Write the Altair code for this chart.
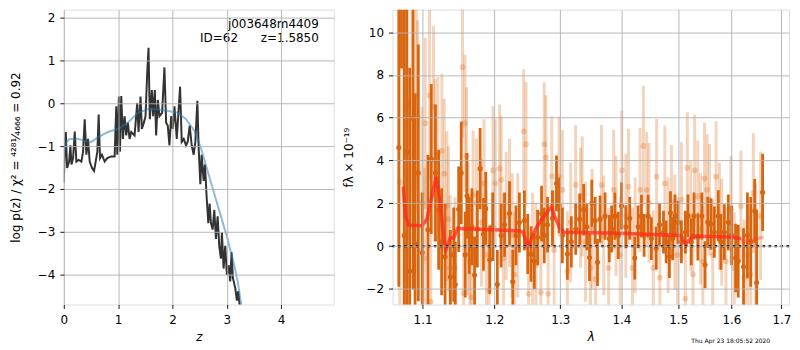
import altair as alt
import pandas as pd

FONT = "DejaVu Sans"

# ---------------- left panel: p(z) ----------------
pz_z = [0.000, 0.018, 0.037, 0.061, 0.098, 0.122, 0.141, 0.171, 0.202, 0.232,
        0.275, 0.324, 0.355, 0.385, 0.416, 0.446, 0.477, 0.520, 0.557, 0.587,
        0.618, 0.642, 0.667, 0.703, 0.752, 0.801, 0.875, 0.936, 0.966, 0.985,
        1.015, 1.034, 1.058, 1.089, 1.119, 1.150, 1.180, 1.211, 1.242, 1.303,
        1.352, 1.376, 1.413, 1.437, 1.474, 1.505, 1.535, 1.560, 1.584, 1.621,
        1.645, 1.676, 1.700, 1.731, 1.761, 1.810, 1.853, 1.884, 1.914, 1.945,
        1.976, 2.006, 2.037, 2.080, 2.141, 2.171, 2.208, 2.251, 2.281, 2.318,
        2.355, 2.391, 2.422, 2.459, 2.483, 2.514, 2.538, 2.575, 2.599, 2.630,
        2.661, 2.685, 2.709, 2.740, 2.771, 2.801, 2.832, 2.862, 2.893, 2.911,
        2.942, 2.972, 3.003, 3.034, 3.064, 3.089, 3.113, 3.156, 3.187, 3.211,
        3.235, 3.260]
pz_logp = [-1.85, -1.13, -0.67, -1.51, -1.36, -0.98, -1.43, -1.28, -0.66, -1.36,
           -1.32, -1.36, -1.13, -0.37, -1.20, -0.83, -1.36, -1.51, -1.58, -1.36,
           -1.13, -0.26, -1.28, -1.20, -1.36, -1.28, -1.24, -1.24, -0.07, -1.20,
           0.16, -1.13, 0.17, -0.83, -0.30, -0.75, -0.45, -0.83, -0.67, -0.75,
           0.01, -0.67, 0.16, -0.60, -0.45, -0.30, 0.69, 1.30, -0.37, 0.31,
           -0.30, 0.31, -0.75, 0.08, -0.30, -0.22, 0.84, -0.45, -0.52, -0.98,
           -0.30, -0.60, -0.07, -0.83, 0.39, -0.90, -0.83, -0.98, -0.90, -0.52,
           -0.98, -1.20, -0.90, 0.06, -1.05, -1.89, -1.20, -1.81, -1.43, -2.19,
           -2.80, -2.34, -2.80, -2.95, -2.49, -3.17, -2.64, -3.33, -3.63, -3.02,
           -3.86, -3.33, -4.01, -3.78, -4.16, -3.48, -4.08, -4.31, -4.61, -4.39,
           -4.69, -5.07]

prior_z = [0.000, 0.049, 0.110, 0.263, 0.416, 0.508, 0.630, 0.813, 0.997, 1.180,
           1.364, 1.547, 1.731, 1.914, 2.098, 2.251, 2.404, 2.526, 2.648, 2.771,
           2.893, 3.015, 3.138, 3.211, 3.260, 3.272]
prior_logp = [-1.13, -0.90, -0.83, -0.83, -0.89, -0.90, -0.79, -0.67, -0.60, -0.45,
              -0.22, -0.14, -0.14, -0.18, -0.22, -0.37, -0.64, -1.05, -1.58, -2.11,
              -2.64, -3.17, -3.78, -4.23, -4.65, -4.80]

left_ticks_x = [0, 1, 2, 3, 4]
left_ticks_y = [-4, -3, -2, -1, 0, 1, 2]
label_lines = "j003648m4409\nID=62\u00a0\u00a0\u00a0\u00a0\u00a0\u00a0z=1.5850"

# ---------------- right panel: spectrum ----------------
dark_wave = [1.0687, 1.0722, 1.0757, 1.0790, 1.0829, 1.0874, 1.0900, 1.0943, 1.0996, 1.1072,
             1.1116, 1.1173, 1.1216, 1.1257, 1.1304, 1.1377, 1.1423, 1.1445, 1.1492, 1.1528,
             1.1584, 1.1608, 1.1640, 1.1678, 1.1716, 1.1755, 1.1795, 1.1843, 1.1876, 1.1933,
             1.1976, 1.2044, 1.2099, 1.2150, 1.2223, 1.2272, 1.2319, 1.2371, 1.2446, 1.2496,
             1.2547, 1.2597, 1.2647, 1.2708, 1.2749, 1.2800, 1.2877, 1.2940, 1.2981, 1.3033,
             1.3112, 1.3175, 1.3245, 1.3309, 1.3374, 1.3425, 1.3469, 1.3506, 1.3561, 1.3600,
             1.3643, 1.3725, 1.3796, 1.3835, 1.3890, 1.3947, 1.4003, 1.4076, 1.4143, 1.4229,
             1.4287, 1.4345, 1.4391, 1.4461, 1.4519, 1.4605, 1.4663, 1.4734, 1.4782, 1.4840,
             1.4859, 1.4899, 1.4940, 1.4996, 1.5057, 1.5130, 1.5178, 1.5239, 1.5289, 1.5361,
             1.5435, 1.5496, 1.5547, 1.5608, 1.5671, 1.5747, 1.5797, 1.5862, 1.5939, 1.6003,
             1.6080, 1.6132, 1.6236, 1.6313, 1.6378, 1.6457, 1.6497, 1.6616]
dark_flux = [4.6, 14.0, 0.5, 4.4, -1.17, 5.97, 0.12, 3.42, -0.3, 0.76,
             4.07, 3.42, 1.7, 0.2, -0.5, -1.45, -0.4, -1.8, 1.72, 3.42,
             -0.4, 2.35, 0.5, 0.9, -1.35, 0.8, 3.62, 0.55, 1.76, -0.64,
             0.9, -1.78, 0.5, 1.0, 1.53, -1.67, 0.5, 1.1, 1.2, 0.1,
             -0.37, -0.7, 0.4, 1.52, 0.5, 1.0, 1.3, 2.93, 1.9, 0.5,
             -0.37, 0.2, 0.8, 1.26, 1.7, 0.9, -0.53, 2.0, 1.2, -0.76,
             1.26, 1.4, 0.35, 0.8, 1.4, 0.5, 1.87, 0.9, 1.3, -0.56,
             0.9, 1.4, 0.5, 1.4, 0.35, -0.1, 1.0, 0.65, 0.2, -0.49,
             1.56, 0.35, 1.41, 1.11, 0.2, 0.65, 1.41, 0.2, 1.41, 0.43,
             1.41, -0.87, 1.11, 1.03, 0.65, 1.41, 0.2, 0.65, 1.11, 0.5,
             -0.56, -0.7, -0.97, 0.5, 0.2, 1.64, -1.7, 2.51]
dark_err = [6.5, 5.7, 12.0, 9.0, 9.5, 8.0, 7.0, 6.0, 2.8, 3.5,
            3.5, 3.2, 2.8, 2.5, 2.5, 2.2, 2.2, 2.0, 2.0, 2.4,
            2.0, 2.0, 1.8, 1.8, 1.8, 1.8, 1.9, 1.7, 1.7, 1.6,
            1.6, 1.6, 1.5, 1.5, 1.5, 1.5, 1.4, 1.4, 1.4, 1.4,
            1.3, 1.3, 1.3, 1.3, 1.3, 1.3, 1.3, 1.3, 1.3, 1.3,
            1.2, 1.2, 1.2, 1.2, 1.2, 1.1, 1.1, 1.1, 1.1, 1.1,
            1.1, 1.1, 1.1, 1.1, 1.1, 1.1, 1.1, 1.0, 1.0, 1.0,
            1.0, 1.0, 1.0, 1.0, 1.0, 1.0, 1.0, 1.0, 1.0, 1.0,
            1.0, 1.0, 1.0, 1.0, 1.0, 1.0, 1.0, 1.1, 1.1, 1.1,
            1.1, 1.1, 1.2, 1.2, 1.2, 1.2, 1.3, 1.3, 1.3, 1.4,
            1.6, 1.7, 1.8, 2.0, 2.1, 1.5, 3.4, 1.8]

light_wave = [1.0700, 1.0797, 1.0800, 1.0860, 1.0917, 1.0934, 1.0992, 1.1027, 1.1036, 1.1093,
              1.1110, 1.1147, 1.1165, 1.1205, 1.1260, 1.1293, 1.1328, 1.1350, 1.1373, 1.1441,
              1.1546, 1.1560, 1.1580, 1.1602, 1.1626, 1.1649, 1.1672, 1.1695, 1.1742, 1.1814,
              1.1851, 1.1885, 1.1923, 1.1980, 1.2015, 1.2077, 1.2101, 1.2135, 1.2174, 1.2223,
              1.2262, 1.2296, 1.2346, 1.2435, 1.2471, 1.2510, 1.2571, 1.2621, 1.2697, 1.2749,
              1.2775, 1.2810, 1.2867, 1.2903, 1.2981, 1.3033, 1.3112, 1.3165, 1.3245, 1.3324,
              1.3350, 1.3404, 1.3485, 1.3512, 1.3567, 1.3665, 1.3703, 1.3785, 1.3869, 1.3908,
              1.3980, 1.4008, 1.4076, 1.4121, 1.4189, 1.4235, 1.4321, 1.4379, 1.4436, 1.4477,
              1.4552, 1.4611, 1.4669, 1.4758, 1.4817, 1.4877, 1.4936, 1.4984, 1.5057, 1.5130,
              1.5166, 1.5228, 1.5270, 1.5301, 1.5361, 1.5411, 1.5454, 1.5485, 1.5534, 1.5578,
              1.5640, 1.5704, 1.5768, 1.5812, 1.5894, 1.5990, 1.6055, 1.6184, 1.6249, 1.6313,
              1.6378, 1.6431, 1.6477, 1.6576]
light_flux = [3.0, 6.58, 1.42, 5.97, 7.07, 6.05, 2.02, -0.56, 5.74, 7.04,
              -2.6, 6.50, 4.00, 4.30, 4.45, 3.39, 1.87, 1.26, -1.02, -1.02,
              8.36, -2.2, 5.74, 4.22, 0.81, -0.71, -2.39, 2.40, 2.02, 1.11,
              2.93, -0.41, -2.08, 3.54, 2.93, 3.62, 3.09, -0.56, 1.41, 2.02,
              0.50, -1.32, 0.50, 5.36, 4.76, -2.23, -0.41, -0.87, -2.16, 4.76,
              4.15, -2.23, 3.27, -0.18, 3.24, 2.63, -1.17, 1.11, 2.86, 1.79,
              2.33, 0.20, -1.02, 0.81, -1.55, 2.86, 0.50, -1.02, 2.63, 1.41,
              -0.41, 3.54, 1.41, 2.78, -1.02, 0.50, 2.63, 4.68, 2.63, 2.02,
              -1.02, 3.24, -1.47, 2.93, 0.50, 2.02, 0.65, -0.41, 2.17, -2.46,
              3.65, 1.41, -1.32, 3.54, 2.33, 0.81, -0.71, 3.16, 2.63, 2.17,
              -0.41, 3.24, 1.41, 0.65, -0.71, 1.72, -1.02, 1.87, -1.47, -0.41,
              -1.32, 2.48, 0.05, 1.41]
light_err = [8.0, 5.0, 5.5, 5.0, 4.5, 4.5, 4.5, 4.2, 4.0, 4.0,
             4.0, 3.8, 3.8, 3.6, 3.6, 3.5, 3.5, 3.4, 3.4, 3.3,
             3.3, 3.2, 3.2, 3.2, 3.1, 3.1, 3.1, 3.0, 3.0, 3.0,
             3.0, 3.0, 3.0, 3.0, 3.0, 3.0, 3.0, 3.0, 3.0, 3.0,
             2.9, 2.9, 2.9, 2.9, 2.9, 2.9, 2.9, 2.9, 2.9, 2.9,
             2.9, 2.9, 2.8, 2.8, 2.8, 2.8, 2.8, 2.8, 2.8, 2.8,
             2.8, 2.8, 2.8, 2.8, 2.8, 2.8, 2.8, 2.8, 2.8, 2.8,
             2.7, 2.8, 2.9, 2.7, 2.8, 2.7, 2.9, 2.8, 2.7, 2.8,
             2.7, 2.7, 2.7, 2.7, 2.7, 2.7, 2.7, 2.7, 2.7, 2.7,
             2.6, 2.6, 2.6, 2.6, 2.6, 2.6, 2.6, 2.6, 2.6, 2.6,
             2.6, 2.6, 2.5, 2.5, 2.5, 2.5, 2.6, 2.6, 2.7, 2.7,
             2.8, 2.8, 2.9, 3.0]

model_wave = [1.0744, 1.0773, 1.0817, 1.0992, 1.1058, 1.1125, 1.1182, 1.1237, 1.1293, 1.1316,
              1.1373, 1.1423, 1.1481, 1.1550, 1.2003, 1.2375, 1.2423, 1.2495, 1.2543, 1.2615,
              1.2712, 1.2810, 1.2860, 1.2910, 1.2985, 1.3060, 1.4000, 1.4996, 1.5062, 1.5134,
              1.5189, 1.5271, 1.5926, 1.6184]
model_flux = [2.78, 1.41, 0.98, 0.95, 1.26, 2.33, 3.24, 2.02, 0.20, -0.17,
              0.38, 0.38, 0.84, 0.81, 0.76, 0.71, 0.65, 0.00, 0.27, 0.80,
              1.26, 1.64, 1.84, 1.41, 0.88, 0.65, 0.60, 0.50, 0.47, 0.05,
              0.27, 0.47, 0.43, 0.35]
tail_wave = [1.6184, 1.6249, 1.6412, 1.6640]
tail_flux = [0.35, 0.20, 0.29, 0.43]

right_ticks_x = [1.1, 1.2, 1.3, 1.4, 1.5, 1.6, 1.7]
right_ticks_y = [-2, 0, 2, 4, 6, 8, 10]
stamp = ["Thu Apr 23 18:05:52 2020"]

ORANGE = "#d9650e"
H = 296
FS = 12


def axis(values, title, orient_y=False, italic=False, tpad=8, fmt=None):
    kw = dict(values=values, title=title, grid=True, gridColor="#b0b0b0", gridWidth=0.9,
              domain=False, ticks=True, tickColor="black", tickSize=4, tickWidth=0.9,
              labelFont=FONT, labelFontSize=FS, labelColor="black",
              labelPadding=5 if orient_y else 6,
              titleFont=FONT, titleFontSize=FS, titleColor="black", titleFontWeight="normal",
              titlePadding=tpad, zindex=1, labelFlush=False)
    if italic:
        kw["titleFontStyle"] = "italic"
    if fmt:
        kw["format"] = fmt
    return alt.Axis(**kw)


# left
xs_l = alt.Scale(domain=[0, 4.97], nice=False, zero=False)
ys_l = alt.Scale(domain=[-4.70, 2.19], nice=False, zero=False)
ax_lx = axis(left_ticks_x, "z", italic=True, tpad=6)
ax_ly = axis(left_ticks_y, "log p(z) / χ² = ⁴²⁸¹⁄₄₆₆₆ = 0.92", orient_y=True, tpad=15)

pz_df = pd.DataFrame({"z": pz_z, "logp": pz_logp})
prior_df = pd.DataFrame({"z": prior_z, "logp": prior_logp})

black = alt.Chart(pz_df).mark_line(color="#333333", strokeWidth=2, clip=True).encode(
    x=alt.X("z:Q", scale=xs_l, axis=ax_lx),
    y=alt.Y("logp:Q", scale=ys_l, axis=ax_ly),
    order="z:Q")
blue = alt.Chart(prior_df).mark_line(color="#1f77b4", opacity=0.5, strokeWidth=2, clip=True).encode(
    x=alt.X("z:Q", scale=xs_l), y=alt.Y("logp:Q", scale=ys_l), order="z:Q")
lbl = alt.Chart(pd.DataFrame({"t": [label_lines]})).mark_text(
    align="right", baseline="alphabetic", font=FONT, fontSize=FS, color="black",
    lineBreak="\n", lineHeight=14).encode(
    x=alt.value(256), y=alt.value(18), text="t:N")

left = alt.layer(black, blue, lbl).properties(width=271, height=H)

# right
xs_r = alt.Scale(type="log", domain=[1.0606, 1.7157], nice=False, zero=False)
ys_r = alt.Scale(domain=[-2.73, 11.05], nice=False, zero=False)
ax_rx = axis(right_ticks_x, "λ", italic=True, tpad=6, fmt=".1f")
ax_ry = axis(right_ticks_y, "fλ × 10⁻¹⁹", orient_y=True, tpad=10)

dark_df = pd.DataFrame({"w": dark_wave, "f": dark_flux, "e": dark_err})
dark_df["lo"] = dark_df.f - dark_df.e
dark_df["hi"] = dark_df.f + dark_df.e
light_df = pd.DataFrame({"w": light_wave, "f": light_flux, "e": light_err})
light_df["lo"] = light_df.f - light_df.e
light_df["hi"] = light_df.f + light_df.e

X = alt.X("w:Q", scale=xs_r, axis=ax_rx)
light_bars = alt.Chart(light_df).mark_rule(color=ORANGE, opacity=0.28, strokeWidth=3, clip=True).encode(
    x=X, y=alt.Y("lo:Q", scale=ys_r, axis=ax_ry), y2="hi:Q")
light_pts = alt.Chart(light_df).mark_circle(color=ORANGE, opacity=0.28, size=34, clip=True).encode(
    x=alt.X("w:Q", scale=xs_r), y=alt.Y("f:Q", scale=ys_r))
dark_bars = alt.Chart(dark_df).mark_rule(color=ORANGE, strokeWidth=2.8, clip=True).encode(
    x=alt.X("w:Q", scale=xs_r), y=alt.Y("lo:Q", scale=ys_r), y2="hi:Q")
dark_pts = alt.Chart(dark_df).mark_circle(color=ORANGE, opacity=1, size=26, clip=True).encode(
    x=alt.X("w:Q", scale=xs_r), y=alt.Y("f:Q", scale=ys_r))
model = alt.Chart(pd.DataFrame({"w": model_wave, "f": model_flux})).mark_line(
    color="#ff2a1a", opacity=0.75, strokeWidth=3.5, clip=True).encode(
    x=alt.X("w:Q", scale=xs_r), y=alt.Y("f:Q", scale=ys_r), order="w:Q")
tail = alt.Chart(pd.DataFrame({"w": tail_wave, "f": tail_flux})).mark_line(
    color="#ff2a1a", opacity=0.3, strokeWidth=3.5, clip=True).encode(
    x=alt.X("w:Q", scale=xs_r), y=alt.Y("f:Q", scale=ys_r), order="w:Q")
zero = alt.Chart(pd.DataFrame({"y": [0]})).mark_rule(
    color="black", strokeDash=[2.5, 3.5], strokeWidth=2.2).encode(y=alt.Y("y:Q", scale=ys_r))
stamp_t = alt.Chart(pd.DataFrame({"t": stamp})).mark_text(
    align="right", baseline="alphabetic", font=FONT, fontSize=6, color="black").encode(
    x=alt.value(379), y=alt.value(335), text="t:N")

right = alt.layer(light_bars, light_pts, dark_bars, dark_pts, model, tail, zero, stamp_t).properties(
    width=398, height=H)

chart = alt.hconcat(left, right, spacing=59, bounds="flush").properties(
    padding={"left": 0, "top": 0, "right": 0, "bottom": 0}
).configure_view(stroke="black", strokeWidth=1).configure(font=FONT)

chart.save("out.html", embed_options={"renderer": "svg", "actions": False})
